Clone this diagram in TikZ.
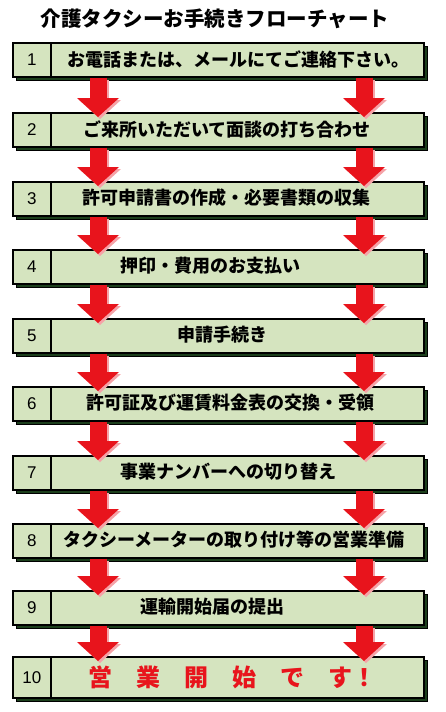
\documentclass[tikz,border=0pt]{standalone}
\usepackage{fontspec}
\setmainfont{Liberation Sans}
\newfontfamily\jpfont{Noto Sans CJK JP}
\usetikzlibrary{arrows.meta,shadows}
\definecolor{boxgreen}{HTML}{D5E4BF}
\definecolor{shadowgreen}{HTML}{1C3F1C}
\definecolor{accentred}{HTML}{E8141C}
\definecolor{arrowpink}{HTML}{F5A3A8}

\begin{document}
\begin{tikzpicture}[
  x=1pt, y=-1pt,
  stepbox/.style={
    draw, line width=1.6pt, fill=boxgreen, minimum width=411pt, minimum height=34pt,
    inner sep=0pt, anchor=north west,
    drop shadow={shadow xshift=4pt, shadow yshift=-4pt, fill=shadowgreen, draw=black, line width=1.2pt, opacity=1},
  },
  numcell/.style={
    draw, line width=1.6pt, minimum width=38pt, minimum height=34pt, inner sep=0pt,
    anchor=north west, font=\fontsize{17}{17}\selectfont,
  },
  steptext/.style={font=\jpfont\bfseries\fontsize{18}{18}\selectfont, inner sep=0pt},
  flowarrow/.style={line width=17pt, -{Triangle[width=42pt, length=19pt, line width=0pt]}, draw=accentred},
  arrowshade/.style={flowarrow, draw=arrowpink},
]
\useasboundingbox (0,0) rectangle (445,712);

\node[font=\jpfont\bfseries\fontsize{20.5}{20.5}\selectfont, inner sep=0pt] (title) at (215,19) {介護タクシーお手続きフローチャート};

% steps
\foreach \n/\t/\cx/\txt in {
  1/42/238/お電話または、メールにてご連絡下さい。,
  2/112/227/ご来所いただいて面談の打ち合わせ,
  3/181/226/許可申請書の作成・必要書類の収集,
  4/249/210/押印・費用のお支払い,
  5/318/222/申請手続き,
  6/386/230/許可証及び運賃料金表の交換・受領,
  7/455/228/事業ナンバーへの切り替え,
  8/523/234/タクシーメーターの取り付け等の営業準備,
  9/590/212/運輸開始届の提出}{
  \node[stepbox] (step\n) at (12,\t) {};
  \node[numcell] (num\n) at (step\n.north west) {\n};
  \node[steptext] (lbl\n) at (\cx,\t+17) {\txt};
}
\node[stepbox, minimum height=41pt] (step10) at (12,656) {};
\node[numcell, minimum height=41pt] (num10) at (step10.north west) {10};
\node[steptext, font=\jpfont\bfseries\fontsize{24}{24}\selectfont, text=accentred] (lbl10) at (232,677) {営　業　開　始　で　す！};

% arrows between steps
\foreach \a/\b in {1/2,2/3,3/4,4/5,5/6,6/7,7/8,8/9,9/10}{
  \foreach \dx in {86,352}{
    \draw[arrowshade] ([xshift=\dx pt+2pt, yshift=-2pt]step\a.south west) -- ([xshift=\dx pt+2pt, yshift=-7pt]step\b.north west);
    \draw[flowarrow] ([xshift=\dx pt]step\a.south west) -- ([xshift=\dx pt, yshift=-5pt]step\b.north west);
  }
}
\end{tikzpicture}
\end{document}
